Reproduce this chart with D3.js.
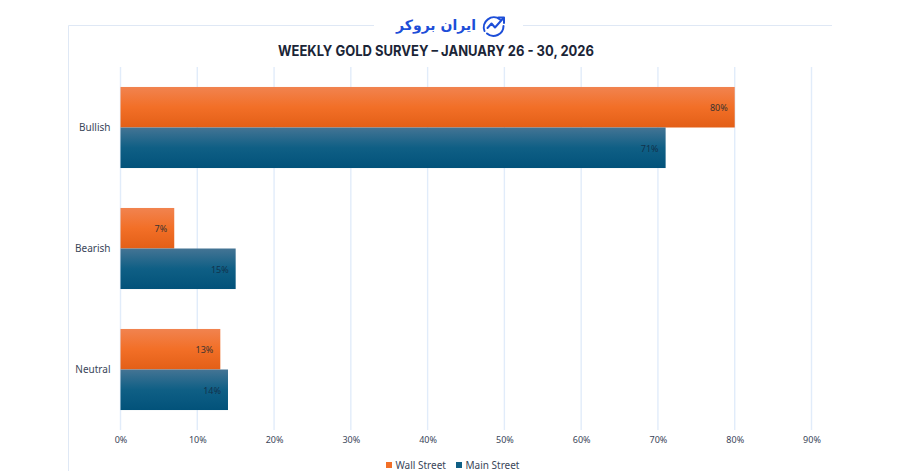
<!DOCTYPE html>
<html>
<head>
<meta charset="utf-8">
<script src="https://d3js.org/d3.v7.min.js"></script>
<style>
  html, body { margin: 0; padding: 0; background: #fff; }
  svg { display: block; }
  text { font-family: "Noto Sans", Roboto, sans-serif; }
</style>
</head>
<body>
<svg id="chart" width="900" height="471"></svg>
<script>
const categories = ['Bullish', 'Bearish', 'Neutral'];
const seriesNames = ['Wall Street', 'Main Street'];
const wallStreet = [80, 7, 13];
const mainStreet = [71, 15, 14];
const xTicks = [0, 10, 20, 30, 40, 50, 60, 70, 80, 90];
const titleText = 'WEEKLY GOLD SURVEY – JANUARY 26 - 30, 2026';
const brandText = 'ایران بروکر';

const svg = d3.select('#chart');
const textColor = '#3a4659';
const gridColor = '#e1ecfa';
const frameColor = '#dfe8f5';

const x = d3.scaleLinear().domain([0, 90]).range([120.5, 811.5]);
const y = d3.scaleBand().domain(categories).range([67, 430]).paddingInner(0.33).paddingOuter(0.165);
const ySeries = d3.scaleBand().domain(seriesNames).range([0, y.bandwidth()]);

// Gradients
const defs = svg.append('defs');
function addGradient(id, stops) {
    const g = defs.append('linearGradient').attr('id', id)
        .attr('x1', 0).attr('x2', 0).attr('y1', 0).attr('y2', 1);
    stops.forEach(s => g.append('stop').attr('offset', s[0]).attr('stop-color', s[1]));
}
addGradient('grad-wall', [[0, '#f1834f'], [0.5, '#f26f27'], [1, '#e35f17']]);
addGradient('grad-main', [[0, '#447494'], [0.5, '#0f5f85'], [1, '#02527a']]);

// Page frame
const frame = svg.append('g').attr('fill', 'none').attr('stroke', frameColor).attr('stroke-width', 1);
frame.append('path').attr('d', 'M68.5,471V25.5H374');
frame.append('path').attr('d', 'M523,25.5H832');

// Brand
const brand = svg.append('g').attr('fill', 'none').attr('stroke', '#1d4ed8');
brand.append('text')
    .attr('x', 476).attr('y', 30)
    .attr('text-anchor', 'start')
    .attr('direction', 'rtl')
    .attr('fill', '#1d4ed8').attr('stroke', 'none')
    .style('font-family', '"DejaVu Sans"')
    .style('font-weight', 700)
    .style('font-size', '14px')
    .text(brandText);
const icon = brand.append('g').attr('stroke-width', 2).attr('stroke-linecap', 'round').attr('stroke-linejoin', 'round');
icon.append('path').attr('d', 'M500,19.5A10,10 0 0 0 484.5,31');
icon.append('path').attr('d', 'M503.5,26A10,10 0 0 1 487,33.5');
icon.append('path').attr('d', 'M487.5,28L491.5,23.5L495,27.5L503,18.5');
icon.append('path').attr('d', 'M498.5,17.5H504V23');

// Title
svg.append('text')
    .attr('x', 436).attr('y', 56)
    .attr('text-anchor', 'middle')
    .attr('textLength', 316)
    .attr('lengthAdjust', 'spacingAndGlyphs')
    .attr('fill', '#1b2537')
    .style('font-family', 'Inter, sans-serif')
    .style('font-weight', 700)
    .style('font-size', '14.5px')
    .text(titleText);

// Grid lines
svg.append('g').selectAll('line').data(xTicks).join('line')
    .attr('x1', d => x(d)).attr('x2', d => x(d))
    .attr('y1', 67).attr('y2', 430)
    .attr('stroke', gridColor).attr('stroke-width', 1.4);

// Bars
const rows = categories.map((c, i) => ({ category: c, values: [wallStreet[i], mainStreet[i]] }));
const groups = svg.append('g').selectAll('g').data(rows).join('g')
    .attr('transform', d => `translate(0,${y(d.category)})`);

groups.selectAll('rect').data(d => d.values.map((v, i) => ({ value: v, series: seriesNames[i], i })))
    .join('rect')
    .attr('x', x(0))
    .attr('y', d => ySeries(d.series))
    .attr('width', d => x(d.value) - x(0))
    .attr('height', ySeries.bandwidth())
    .attr('fill', d => d.i === 0 ? 'url(#grad-wall)' : 'url(#grad-main)');

// Data labels
groups.selectAll('text').data(d => d.values.map((v, i) => ({ value: v, series: seriesNames[i], i })))
    .join('text')
    .attr('x', d => x(d.value) - 7)
    .attr('y', d => ySeries(d.series) + ySeries.bandwidth() / 2 + 4)
    .attr('text-anchor', 'end')
    .attr('fill', d => d.i === 0 ? '#3b3330' : '#12324c')
    .style('font-size', '9px')
    .text(d => d.value + '%');

// Axes
const xAxis = d3.axisBottom(x).tickValues(xTicks).tickFormat(d => d + '%').tickSize(0).tickPadding(0);
const xG = svg.append('g').attr('transform', 'translate(0,437)').call(xAxis);
xG.select('.domain').remove();
xG.selectAll('text').attr('fill', textColor).style('font-size', '9px').style('font-family', '"Noto Sans", sans-serif');

const yAxis = d3.axisLeft(y).tickSize(0).tickPadding(10);
const yG = svg.append('g').attr('transform', 'translate(120.5,0)').call(yAxis);
yG.select('.domain').remove();
yG.selectAll('text').attr('fill', textColor).style('font-size', '10px').style('font-family', '"Noto Sans", sans-serif');

// Legend
const legendX = d3.scalePoint().domain(seriesNames).range([386, 456]);
const legend = svg.append('g').selectAll('g').data(seriesNames).join('g')
    .attr('transform', d => `translate(${legendX(d)},462)`);
legend.append('rect').attr('width', 6).attr('height', 6)
    .attr('fill', (d, i) => i === 0 ? '#f26f27' : '#0f5f85');
legend.append('text').attr('x', 9.5).attr('y', 7)
    .attr('fill', textColor).style('font-size', '10px')
    .text(d => d);
</script>
</body>
</html>
